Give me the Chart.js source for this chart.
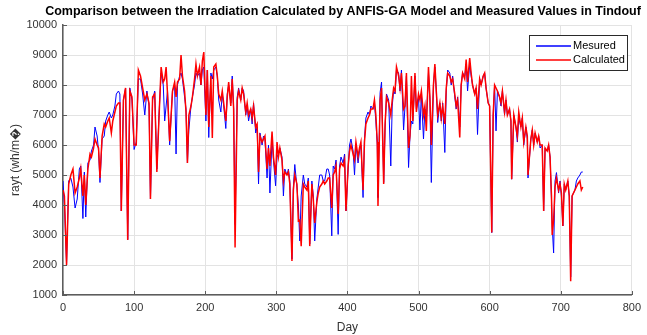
<!DOCTYPE html>
<html>
<head>
<meta charset="utf-8">
<script src="https://cdn.jsdelivr.net/npm/chart.js@4"></script>
<style>
  html, body { margin: 0; padding: 0; background: #fff; }
  canvas { display: block; }
</style>
</head>
<body>
<canvas id="chart" width="647" height="335"></canvas>
<script>
/* ── Data ── */

const TITLE = 'Comparison between the Irradiation Calculated by ANFIS-GA Model and Measured Values in Tindouf';

const days = [
    0, 2, 5, 8, 11, 14, 17, 20, 23, 25,
    28, 30, 32, 35, 38, 40, 43, 45, 48, 50,
    52, 55, 58, 60, 63, 65, 68, 70, 73, 75,
    78, 80, 82, 85, 88, 91, 94, 97, 100, 103,
    106, 109, 112, 115, 118, 121, 123, 126, 129, 132,
    135, 138, 141, 143, 145, 147, 150, 154, 157, 159,
    161, 164, 166, 168, 171, 173, 175, 177, 180, 182,
    185, 187, 189, 192, 194, 196, 198, 201, 203, 205,
    208, 210, 212, 215, 217, 219, 222, 224, 226, 229,
    231, 233, 236, 238, 240, 242, 245, 247, 250, 252,
    254, 257, 259, 261, 264, 266, 268, 271, 273, 275,
    277, 280, 282, 284, 287, 289, 291, 294, 296, 299,
    301, 303, 305, 308, 310, 312, 315, 317, 319, 322,
    324, 326, 329, 331, 333, 335, 338, 340, 343, 345,
    347, 350, 352, 354, 357, 359, 361, 364, 366, 368,
    371, 373, 375, 378, 380, 382, 384, 387, 389, 391,
    394, 396, 398, 401, 403, 405, 408, 410, 412, 415,
    417, 419, 422, 424, 426, 429, 431, 433, 436, 438,
    440, 442, 443, 446, 448, 451, 453, 455, 458, 461,
    463, 465, 467, 469, 472, 474, 476, 479, 481, 483,
    486, 488, 490, 492, 495, 497, 500, 502, 504, 507,
    509, 511, 514, 516, 518, 521, 523, 525, 527, 530,
    532, 534, 537, 539, 541, 544, 546, 548, 551, 553,
    555, 558, 560, 562, 565, 567, 569, 572, 574, 576,
    579, 581, 583, 586, 588, 591, 593, 595, 598, 600,
    603, 605, 607, 609, 611, 614, 616, 618, 621, 623,
    625, 628, 630, 631, 634, 637, 639, 641, 644, 646,
    648, 651, 653, 654, 658, 660, 662, 664, 667, 669,
    671, 674, 676, 678, 681, 683, 685, 687, 688, 690,
    692, 694, 697, 699, 701, 703, 705, 707, 710, 712,
    714, 716, 720, 722, 724, 727, 729, 731,
];

const measured = [
    4800, 4000, 2050, 4800, 4900, 4600, 3900, 4200, 5200, 5300,
    3550, 5100, 3600, 5400, 5500, 5800, 6000, 6600, 6300, 5800,
    4750, 6200, 6300, 6800, 7000, 7100, 6900, 7000, 7300, 7700,
    7800, 7700, 3800, 7500, 7900, 2850, 7900, 7500, 5850, 6100,
    8200, 8200, 7700, 7000, 7800, 7300, 4200, 7500, 7800, 5200,
    7000, 8400, 8000, 6800, 7300, 7800, 6000, 7800, 8000, 5700,
    8000, 8300, 8400, 8200, 7600, 7200, 5400, 6500, 7300, 7600,
    8000, 8400, 8300, 8400, 8000, 8500, 8600, 6800, 8500, 6250,
    8400, 8200, 8500, 8600, 8300, 7500, 7100, 7700, 7300, 6550,
    7700, 8000, 7400, 8300, 7200, 3350, 7600, 7900, 7500, 7900,
    7800, 7000, 7300, 6800, 7200, 6700, 7400, 6400, 6600, 4700,
    6400, 6000, 6300, 6200, 4900, 6000, 4400, 6200, 5500, 4640,
    5600, 5700, 5900, 5600, 4300, 5200, 5000, 5200, 4800, 2200,
    4600, 5350, 4600, 4000, 2800, 4300, 5000, 4700, 4600, 4900,
    2700, 4800, 4300, 2800, 4200, 4600, 5000, 5000, 4800, 4800,
    5200, 5200, 5000, 2970, 5300, 5200, 5500, 3020, 5300, 5600,
    5400, 5700, 3800, 5200, 6000, 6200, 5800, 5000, 6000, 5400,
    5800, 6000, 4250, 6200, 6900, 7100, 7000, 7300, 7200, 7400,
    6800, 6000, 4250, 7750, 8100, 4750, 6600, 7700, 7500, 5300,
    7300, 7800, 7700, 8500, 8400, 7800, 8500, 6500, 7300, 8300,
    5250, 6300, 6800, 6700, 8300, 7200, 7600, 6500, 7700, 6200,
    7200, 6800, 8400, 7500, 4750, 8000, 8600, 7800, 6750, 7400,
    6800, 7400, 5750, 7800, 8500, 8400, 8000, 8300, 7600, 7200,
    7600, 6600, 8000, 8400, 8300, 8700, 7800, 8700, 8300, 8000,
    7700, 7900, 6350, 8200, 8000, 8300, 8400, 7900, 7400, 7300,
    3080, 7000, 8000, 6470, 7800, 7600, 7300, 7800, 7000, 7500,
    7000, 7200, 6800, 4860, 7000, 6600, 6100, 6900, 6600, 6900,
    6000, 6600, 6200, 4900, 6200, 6500, 6000, 6400, 6100, 6300,
    5900, 6000, 3800, 5900, 5800, 6000, 5600, 4200, 3300, 2400,
    4800, 5080, 4400, 4800, 4300, 3300, 4700, 4500, 4800, 4300,
    1600, 4300, 4500, 4800, 4900, 5000, 5100, 5100,
];

const calculated = [
    4500, 4300, 2000, 4700, 5000, 5200, 4400, 4600, 4900, 5200,
    4300, 5000, 4000, 5200, 5700, 5600, 5900, 6200, 6000, 5900,
    4900, 6300, 6700, 6600, 6800, 6900, 6400, 6800, 7100, 7300,
    7400, 7400, 3800, 7500, 7900, 2830, 7800, 7600, 6000, 6000,
    8500, 8300, 7900, 7500, 7700, 7400, 4200, 7600, 7700, 5100,
    6900, 8600, 8100, 8200, 8600, 7700, 6130, 7800, 8100, 7600,
    8100, 8200, 9000, 8300, 7800, 7100, 5400, 7000, 7300, 7600,
    8200, 8700, 8300, 8600, 8000, 8800, 9100, 7000, 8500, 6600,
    8300, 6230, 8600, 8700, 8300, 7700, 7500, 7800, 7400, 6800,
    7600, 8100, 7300, 8200, 7200, 2580, 7500, 7800, 7500, 7900,
    7700, 7100, 7400, 7000, 7200, 6900, 7300, 6600, 6700, 5100,
    6300, 6100, 6200, 6300, 5200, 5900, 5300, 6450, 5600, 5000,
    6100, 5600, 5900, 5500, 4800, 5100, 5000, 5100, 4700, 2130,
    4500, 5000, 4700, 3470, 3500, 2630, 4700, 4600, 4500, 4800,
    2630, 4700, 4200, 3400, 4100, 4400, 4600, 4700, 4800, 4700,
    4800, 4900, 4900, 3900, 5000, 5100, 5300, 3700, 5200, 5400,
    5300, 5500, 3800, 5300, 5800, 6000, 5700, 5500, 6100, 5600,
    5900, 6100, 4500, 6100, 6700, 6900, 7000, 7200, 7200, 7500,
    7000, 6100, 3970, 7500, 7900, 4700, 6700, 7600, 7400, 7000,
    7500, 7900, 7800, 8600, 8300, 7900, 8400, 7200, 7300, 8400,
    5900, 6300, 8300, 6800, 8400, 7100, 7700, 7500, 7800, 7000,
    7300, 6470, 8600, 7600, 6000, 8000, 8700, 7800, 7000, 7400,
    6900, 7300, 6700, 7900, 8400, 8300, 8100, 8200, 7700, 7300,
    7500, 6250, 8000, 8400, 8200, 8850, 8100, 8900, 8400, 8000,
    7700, 7900, 7200, 8200, 8000, 8300, 8400, 7900, 7400, 7300,
    3080, 7000, 8000, 7900, 7800, 7600, 7400, 7800, 7100, 7500,
    7000, 7200, 6800, 4860, 7000, 6600, 6300, 7100, 6600, 6900,
    6100, 6600, 6300, 5000, 6200, 6500, 6000, 6400, 6100, 6300,
    6000, 6000, 3800, 5900, 5800, 6000, 5600, 4300, 3000, 3500,
    4600, 4900, 4500, 4700, 4400, 3300, 4700, 4500, 4800, 4300,
    1460, 4300, 4500, 4600, 4700, 4800, 4500, 4600,
];

const xTicks = [0, 100, 200, 300, 400, 500, 600, 700, 800];
const yTicks = [1000, 2000, 3000, 4000, 5000, 6000, 7000, 8000, 9000, 10000];

/* ── Look ── */

const FONT      = '"Liberation Sans", Arial, sans-serif';
const AXIS_GREY = '#5c5c5c';
const GRID_GREY = '#e3e3e3';
const TEXT_GREY = '#333333';

function points(values) {
    return days.map((d, i) => ({ x: d, y: values[i] }));
}

// title, inward ticks and the boxed legend MATLAB-style
const matlabDecor = {
    id: 'matlabDecor',
    afterDraw(chart) {
        const ctx = chart.ctx;
        const area = chart.chartArea;
        const xs = chart.scales.x;
        const ys = chart.scales.y;

        ctx.save();

        // inward ticks
        ctx.strokeStyle = AXIS_GREY;
        ctx.lineWidth = 1;
        xTicks.forEach(t => {
            const px = Math.round(xs.getPixelForValue(t)) + 0.5;
            ctx.beginPath();
            ctx.moveTo(px, area.bottom);
            ctx.lineTo(px, area.bottom - 4);
            ctx.stroke();
        });
        yTicks.forEach(t => {
            const py = Math.round(ys.getPixelForValue(t)) + 0.5;
            ctx.beginPath();
            ctx.moveTo(area.left, py);
            ctx.lineTo(area.left + 4, py);
            ctx.stroke();
        });

        // title
        ctx.fillStyle = '#000';
        ctx.font = 'bold 12.5px ' + FONT;
        ctx.textAlign = 'center';
        ctx.textBaseline = 'middle';
        ctx.fillText(TITLE, 343, 12);

        // legend (labels and colours come from the datasets, in dataset order)
        const lx = 529, ly = 35, lw = 98, lh = 35;
        ctx.fillStyle = '#fff';
        ctx.fillRect(lx, ly, lw, lh);
        ctx.strokeStyle = '#2a2a2a';
        ctx.lineWidth = 1;
        ctx.strokeRect(lx + 0.5, ly + 0.5, lw, lh);

        ctx.font = '11px ' + FONT;
        ctx.textAlign = 'left';
        chart.data.datasets.forEach((ds, i) => {
            const y = ly + 11 + i * 14;
            ctx.strokeStyle = ds.borderColor;
            ctx.lineWidth = 1.5;
            ctx.beginPath();
            ctx.moveTo(lx + 7, y);
            ctx.lineTo(lx + 42, y);
            ctx.stroke();
            ctx.fillStyle = '#000';
            ctx.fillText(ds.label, lx + 44, y);
        });

        ctx.restore();
    },
};

new Chart(document.getElementById('chart'), {
    type: 'line',
    data: {
        datasets: [
            {
                label:       'Mesured',
                data:        points(measured),
                borderColor: '#0000ff',
                borderWidth: 1,
                pointRadius: 0,
                tension:     0,
                order:       1,   // drawn first, under the red line
            },
            {
                label:       'Calculated',
                data:        points(calculated),
                borderColor: '#ff0000',
                borderWidth: 1.5,
                pointRadius: 0,
                tension:     0,
                order:       0,
            },
        ],
    },
    options: {
        responsive:       false,
        animation:        false,
        devicePixelRatio: 1,
        layout: { padding: { top: 25, right: 11, left: 0, bottom: 0 } },
        plugins: {
            legend:  { display: false },
            title:   { display: false },
            tooltip: { enabled: false },
        },
        scales: {
            x: {
                type: 'linear',
                min:  0,
                max:  800,
                afterFit: s => { s.height = 40; },
                afterBuildTicks: s => { s.ticks = xTicks.map(v => ({ value: v })); },
                grid:   { color: GRID_GREY, tickLength: 0, drawTicks: false },
                border: { display: true, color: AXIS_GREY, width: 1.5 },
                ticks:  {
                    color: TEXT_GREY, font: { family: FONT, size: 11 }, padding: 6, maxRotation: 0,
                    callback: v => String(v),
                },
                title:  {
                    display: true, text: 'Day', color: TEXT_GREY,
                    font: { family: FONT, size: 12 }, padding: { top: 2, bottom: 0 },
                },
            },
            y: {
                min: 1000,
                max: 10000,
                afterFit: s => { s.width = 63; },
                afterBuildTicks: s => { s.ticks = yTicks.map(v => ({ value: v })); },
                grid:   { color: GRID_GREY, tickLength: 0, drawTicks: false },
                border: { display: true, color: AXIS_GREY, width: 1.5 },
                ticks:  {
                    color: TEXT_GREY, font: { family: FONT, size: 11 }, padding: 6,
                    callback: v => String(v),
                },
                title:  {
                    display: true, text: 'rayt (wh/m\uFFFD)', color: TEXT_GREY,
                    font: { family: FONT, size: 12 }, padding: { top: 8, bottom: 0 },
                },
            },
        },
    },
    plugins: [matlabDecor],
});
</script>
</body>
</html>
